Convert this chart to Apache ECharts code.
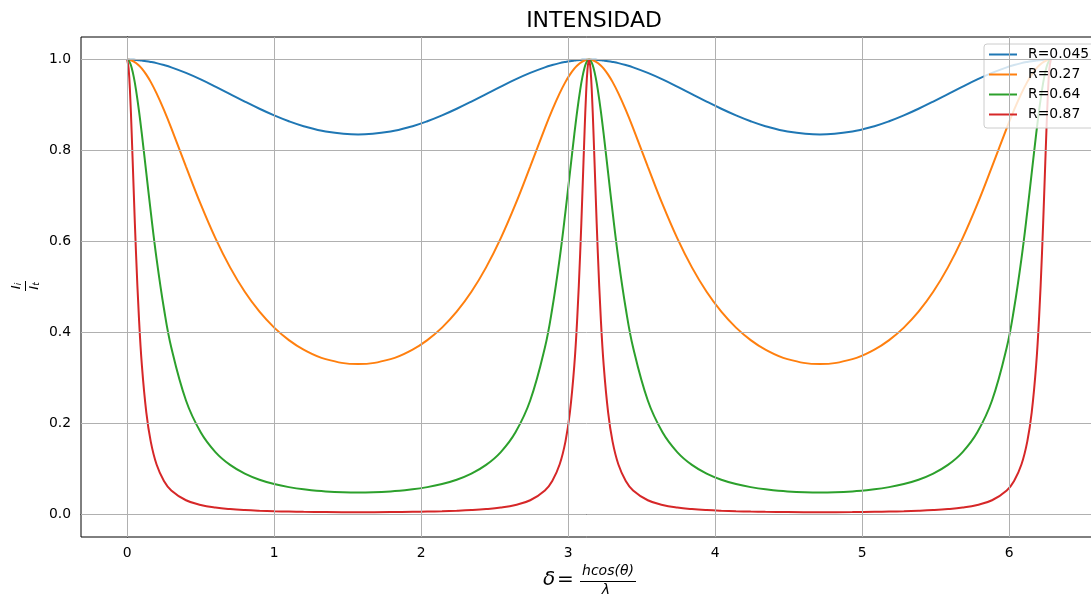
<!DOCTYPE html>
<html>
<head>
<meta charset="utf-8">
<script src="https://cdn.jsdelivr.net/npm/echarts@6/dist/echarts.min.js"></script>
<style>
html, body { margin: 0; padding: 0; background: #fff; }
#chart { width: 1091px; height: 594px; }
</style>
</head>
<body>
<div id="chart"></div>
<script>
const delta = [
	0, 0.01, 0.02, 0.03, 0.045, 0.06, 0.08, 0.1, 0.13, 0.16, 0.2, 0.25, 0.3, 0.4, 0.5, 0.6, 0.7, 0.8, 0.9, 1.0, 1.1, 1.2, 1.35, 1.5708,
	1.7916, 1.9416, 2.0416, 2.1416, 2.2416, 2.3416, 2.4416, 2.5416, 2.6416, 2.7416, 2.8416, 2.8916, 2.9416, 2.9816, 3.0116, 3.0416, 3.0616, 3.0816, 3.0966, 3.1116, 3.1216, 3.1316, 3.1416,
	3.1516, 3.1616, 3.1716, 3.1866, 3.2016, 3.2216, 3.2416, 3.2716, 3.3016, 3.3416, 3.3916, 3.4416, 3.5416, 3.6416, 3.7416, 3.8416, 3.9416, 4.0416, 4.1416, 4.2416, 4.3416, 4.4916, 4.7124,
	4.9332, 5.0832, 5.1832, 5.2832, 5.3832, 5.4832, 5.5832, 5.6832, 5.7832, 5.8832, 5.9832, 6.0332, 6.0832, 6.1232, 6.1532, 6.1832, 6.2032, 6.2232, 6.2382, 6.2532, 6.2632, 6.2732, 6.2832
]

const intR045 = [
	1, 1.0000, 0.9999, 0.9998, 0.9996, 0.9993, 0.9987, 0.9980, 0.9967, 0.9950, 0.9923, 0.9881, 0.9831, 0.9709, 0.9566, 0.9408, 0.9243, 0.9078, 0.8920, 0.8774, 0.8645, 0.8537, 0.8418, 0.8352,
	0.8418, 0.8537, 0.8645, 0.8774, 0.8920, 0.9078, 0.9243, 0.9408, 0.9566, 0.9709, 0.9831, 0.9881, 0.9923, 0.9950, 0.9967, 0.9980, 0.9987, 0.9993, 0.9996, 0.9998, 0.9999, 1.0000, 1,
	1.0000, 0.9999, 0.9998, 0.9996, 0.9993, 0.9987, 0.9980, 0.9967, 0.9950, 0.9923, 0.9881, 0.9831, 0.9709, 0.9566, 0.9408, 0.9243, 0.9078, 0.8920, 0.8774, 0.8645, 0.8537, 0.8418, 0.8352,
	0.8418, 0.8537, 0.8645, 0.8774, 0.8920, 0.9078, 0.9243, 0.9408, 0.9566, 0.9709, 0.9831, 0.9881, 0.9923, 0.9950, 0.9967, 0.9980, 0.9987, 0.9993, 0.9996, 0.9998, 0.9999, 1.0000, 1
]

const intR27 = [
	1, 0.9998, 0.9992, 0.9982, 0.9959, 0.9928, 0.9872, 0.9802, 0.9671, 0.9511, 0.9259, 0.8896, 0.8496, 0.7649, 0.6822, 0.6075, 0.5432, 0.4895, 0.4457, 0.4107, 0.3832, 0.3623, 0.3414, 0.3304,
	0.3414, 0.3623, 0.3832, 0.4107, 0.4457, 0.4895, 0.5432, 0.6075, 0.6822, 0.7649, 0.8496, 0.8896, 0.9259, 0.9511, 0.9671, 0.9802, 0.9872, 0.9928, 0.9959, 0.9982, 0.9992, 0.9998, 1,
	0.9998, 0.9992, 0.9982, 0.9959, 0.9928, 0.9872, 0.9802, 0.9671, 0.9511, 0.9259, 0.8896, 0.8496, 0.7649, 0.6822, 0.6075, 0.5432, 0.4895, 0.4457, 0.4107, 0.3832, 0.3623, 0.3414, 0.3304,
	0.3414, 0.3623, 0.3832, 0.4107, 0.4457, 0.4895, 0.5432, 0.6075, 0.6822, 0.7649, 0.8496, 0.8896, 0.9259, 0.9511, 0.9671, 0.9802, 0.9872, 0.9928, 0.9959, 0.9982, 0.9992, 0.9998, 1
]

const intR64 = [
	1, 0.9980, 0.9922, 0.9825, 0.9616, 0.9337, 0.8880, 0.8355, 0.7508, 0.6661, 0.5619, 0.4527, 0.3670, 0.2503, 0.1805, 0.1370, 0.1087, 0.0896, 0.0762, 0.0667, 0.0599, 0.0551, 0.0505, 0.0482,
	0.0505, 0.0551, 0.0599, 0.0667, 0.0762, 0.0896, 0.1087, 0.1370, 0.1805, 0.2503, 0.3670, 0.4527, 0.5619, 0.6661, 0.7508, 0.8355, 0.8880, 0.9337, 0.9616, 0.9825, 0.9922, 0.9980, 1,
	0.9980, 0.9922, 0.9825, 0.9616, 0.9337, 0.8880, 0.8355, 0.7508, 0.6661, 0.5619, 0.4527, 0.3670, 0.2503, 0.1805, 0.1370, 0.1087, 0.0896, 0.0762, 0.0667, 0.0599, 0.0551, 0.0505, 0.0482,
	0.0505, 0.0551, 0.0599, 0.0667, 0.0762, 0.0896, 0.1087, 0.1370, 0.1805, 0.2503, 0.3670, 0.4527, 0.5619, 0.6661, 0.7508, 0.8355, 0.8880, 0.9337, 0.9616, 0.9825, 0.9922, 0.9980, 1
]

const intR87 = [
	1, 0.9798, 0.9239, 0.8437, 0.7059, 0.5746, 0.4320, 0.3276, 0.2242, 0.1606, 0.1096, 0.0735, 0.0527, 0.0310, 0.0207, 0.0150, 0.0116, 0.0094, 0.0079, 0.0068, 0.0061, 0.0056, 0.0051, 0.0048,
	0.0051, 0.0056, 0.0061, 0.0068, 0.0079, 0.0094, 0.0116, 0.0150, 0.0207, 0.0310, 0.0527, 0.0735, 0.1096, 0.1606, 0.2242, 0.3276, 0.4320, 0.5746, 0.7059, 0.8437, 0.9239, 0.9798, 1,
	0.9798, 0.9239, 0.8437, 0.7059, 0.5746, 0.4320, 0.3276, 0.2242, 0.1606, 0.1096, 0.0735, 0.0527, 0.0310, 0.0207, 0.0150, 0.0116, 0.0094, 0.0079, 0.0068, 0.0061, 0.0056, 0.0051, 0.0048,
	0.0051, 0.0056, 0.0061, 0.0068, 0.0079, 0.0094, 0.0116, 0.0150, 0.0207, 0.0310, 0.0527, 0.0735, 0.1096, 0.1606, 0.2242, 0.3276, 0.4320, 0.5746, 0.7059, 0.8437, 0.9239, 0.9798, 1
]

const seriesNames = ['R=0.045', 'R=0.27', 'R=0.64', 'R=0.87']
const seriesValues = [intR045, intR27, intR64, intR87]
const colors = ['#1f77b4', '#ff7f0e', '#2ca02c', '#d62728']
const xTicks = [0, 1, 2, 3, 4, 5, 6]
const yTicks = [0, 0.2, 0.4, 0.6, 0.8, 1.0]

const FONT = '"DejaVu Sans", sans-serif'
const chart = echarts.init(document.getElementById('chart'), null, { renderer: 'canvas' })

const gridLines = xTicks.map(v => ({ xAxis: v })).concat(yTicks.map(v => ({ yAxis: v })))

const series = seriesNames.map((name, i) => ({
	name,
	type: 'line',
	data: delta.map((d, k) => [d, seriesValues[i][k]]),
	symbol: 'none',
	showSymbol: false,
	smooth: 0.4,
	lineStyle: { color: colors[i], width: 2 },
	itemStyle: { color: colors[i] },
	z: 3
}))

series.unshift({
	name: 'grid',
	type: 'line',
	data: [],
	silent: true,
	z: 1,
	markLine: {
		silent: true,
		symbol: ['none', 'none'],
		label: { show: false },
		lineStyle: { color: '#b0b0b0', width: 1, type: 'solid' },
		emphasis: { disabled: true },
		data: gridLines
	}
})

chart.setOption({
	animation: false,
	backgroundColor: '#fff',
	color: colors,
	title: {
		text: 'INTENSIDAD',
		left: 589,
		top: 5,
		textAlign: 'center',
		textStyle: { fontFamily: FONT, fontSize: 22, fontWeight: 'normal', color: '#000' }
	},
	legend: {
		data: seriesNames,
		orient: 'vertical',
		left: 984,
		top: 44,
		icon: 'rect',
		itemWidth: 28,
		itemHeight: 2,
		itemGap: 3,
		padding: [2, 10, 5, 5],
		backgroundColor: 'rgba(255,255,255,0.8)',
		borderColor: '#cccccc',
		borderWidth: 1,
		borderRadius: 3,
		textStyle: { fontFamily: FONT, fontSize: 13.9, lineHeight: 17, color: '#000', padding: [0, 0, 0, 6] }
	},
	grid: {
		left: 81,
		width: 1016,
		top: 37,
		height: 500,
		show: true,
		borderColor: '#000',
		borderWidth: 1,
		backgroundColor: 'transparent',
		containLabel: false,
		outerBoundsMode: 'none'
	},
	xAxis: {
		type: 'value',
		min: -0.3142,
		max: 6.5973,
		splitLine: { show: false },
		axisLine: { lineStyle: { color: '#000', width: 1 } },
		axisTick: { customValues: xTicks, length: 5, lineStyle: { color: '#000' } },
		axisLabel: {
			customValues: xTicks,
			margin: 9,
			fontFamily: FONT,
			fontSize: 13.9,
			color: '#000',
			formatter: v => String(v)
		}
	},
	yAxis: {
		type: 'value',
		min: -0.0498,
		max: 1.0498,
		splitLine: { show: false },
		axisLine: { show: true, lineStyle: { color: '#000', width: 1 } },
		axisTick: { show: true, customValues: yTicks, length: 5, lineStyle: { color: '#000' } },
		axisLabel: {
			customValues: yTicks,
			margin: 10,
			fontFamily: FONT,
			fontSize: 13.9,
			color: '#000',
			formatter: v => v.toFixed(1)
		}
	},
	graphic: [
		{
			type: 'group',
			x: 0,
			y: 0,
			children: [
				{ type: 'text', x: 543, y: 580, style: { text: 'δ', font: 'italic 20px "DejaVu Sans"', fill: '#000', textVerticalAlign: 'middle' } },
				{ type: 'text', x: 557, y: 580, style: { text: '=', font: '20px "DejaVu Sans"', fill: '#000', textVerticalAlign: 'middle' } },
				{ type: 'text', x: 608, y: 578, style: { text: 'hcos(θ)', font: 'italic 14px "DejaVu Sans"', fill: '#000', textAlign: 'center', textVerticalAlign: 'bottom' } },
				{ type: 'line', shape: { x1: 580, y1: 581.5, x2: 636, y2: 581.5 }, style: { stroke: '#000', lineWidth: 1 } },
				{ type: 'text', x: 606, y: 583, style: { text: 'λ', font: 'italic 14px "DejaVu Sans"', fill: '#000', textAlign: 'center', textVerticalAlign: 'top' } }
			]
		},
		{
			type: 'group',
			x: 25.5,
			y: 286,
			rotation: Math.PI / 2,
			children: [
				{ type: 'text', x: 0, y: -2, style: { text: '{a|I}{b|i}', fill: '#000', textAlign: 'center', textVerticalAlign: 'bottom', rich: { a: { font: 'italic 13px "DejaVu Sans"' }, b: { font: 'italic 9px "DejaVu Sans"', padding: [5, 0, 0, 0] } } } },
				{ type: 'line', shape: { x1: -5, y1: 0, x2: 5, y2: 0 }, style: { stroke: '#000', lineWidth: 1 } },
				{ type: 'text', x: 0, y: 2, style: { text: '{a|I}{b|t}', fill: '#000', textAlign: 'center', textVerticalAlign: 'top', rich: { a: { font: 'italic 13px "DejaVu Sans"' }, b: { font: 'italic 9px "DejaVu Sans"', padding: [5, 0, 0, 0] } } } }
			]
		}
	],
	series
})
</script>
</body>
</html>
